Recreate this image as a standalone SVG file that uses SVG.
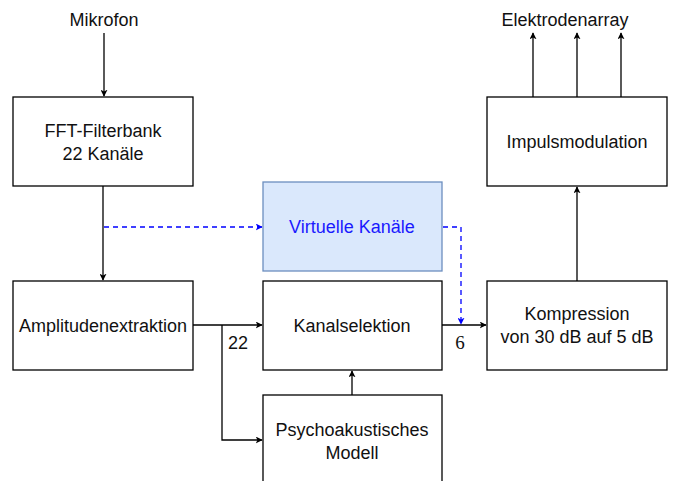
<svg xmlns="http://www.w3.org/2000/svg" width="673" height="481" viewBox="0 0 673 481">
<defs>
<style>
.box{fill:#ffffff;stroke:#000000;stroke-width:1.3}
.vbox{fill:#dae8fc;stroke:#6c8ebf;stroke-width:1.3}
.t{font-family:"Liberation Sans",Arial,sans-serif;font-size:18px;fill:#111111;text-anchor:middle}
.tv{font-family:"Liberation Sans",Arial,sans-serif;font-size:18px;fill:#1a1aff;text-anchor:middle}
.num{font-family:"Liberation Serif","Times New Roman",serif;font-size:19px;fill:#111111;text-anchor:middle}
.c{fill:none;stroke:#000000;stroke-width:1.3}
.d{fill:none;stroke:#0000ff;stroke-width:1.3;stroke-dasharray:5,4}
</style>
<marker id="ah" viewBox="0 0 10 10" refX="9" refY="5" markerWidth="7" markerHeight="7" markerUnits="userSpaceOnUse" orient="auto">
<path d="M0,0 L10,5 L0,10 L2.5,5 Z" fill="#000000"/>
</marker>
<marker id="ahb" viewBox="0 0 10 10" refX="9" refY="5" markerWidth="7" markerHeight="7" markerUnits="userSpaceOnUse" orient="auto">
<path d="M0,0 L10,5 L0,10 L2.5,5 Z" fill="#0000ff"/>
</marker>
</defs>
<rect width="673" height="481" fill="#ffffff"/>
<text class="t" x="104" y="26">Mikrofon</text>
<text class="t" x="565" y="26">Elektrodenarray</text>
<g id="connectors">
<path class="c" d="M104,33 L104,96" marker-end="url(#ah)"/>
<path class="c" d="M103,186 L103,280" marker-end="url(#ah)"/>
<path class="d" d="M104,227 L262,227" marker-end="url(#ahb)"/>
<path class="d" d="M443,227 L461,227 L461,324" marker-end="url(#ahb)"/>
<path class="c" d="M193,325 L262,325" marker-end="url(#ah)"/>
<path class="c" d="M222,325 L222,440 L262,440" marker-end="url(#ah)"/>
<path class="c" d="M352,395 L352,371" marker-end="url(#ah)"/>
<path class="c" d="M442,325 L486,325" marker-end="url(#ah)"/>
<path class="c" d="M577,281 L577,187" marker-end="url(#ah)"/>
<path class="c" d="M533,97 L533,33" marker-end="url(#ah)"/>
<path class="c" d="M577,97 L577,33" marker-end="url(#ah)"/>
<path class="c" d="M621,97 L621,33" marker-end="url(#ah)"/>
<text class="t" x="238" y="349">22</text>
<text class="num" x="460" y="349">6</text>
</g>
<g id="fft">
<rect class="box" x="13" y="97" width="180" height="89"/>
<text class="t" x="103" y="137">FFT-Filterbank</text>
<text class="t" x="103" y="160">22 Kanäle</text>
</g>
<g id="virtuell">
<rect class="vbox" x="263" y="182" width="179" height="89"/>
<text class="tv" x="352" y="233">Virtuelle Kanäle</text>
</g>
<g id="amplitude">
<rect class="box" x="13" y="281" width="180" height="89"/>
<text class="t" x="103" y="332">Amplitudenextraktion</text>
</g>
<g id="kanalselektion">
<rect class="box" x="263" y="281" width="179" height="89"/>
<text class="t" x="352" y="332">Kanalselektion</text>
</g>
<g id="psycho">
<rect class="box" x="263" y="395" width="179" height="100"/>
<text class="t" x="352" y="436">Psychoakustisches</text>
<text class="t" x="352" y="459">Modell</text>
</g>
<g id="kompression">
<rect class="box" x="487" y="281" width="180" height="89"/>
<text class="t" x="577" y="320">Kompression</text>
<text class="t" x="577" y="343">von 30 dB auf 5 dB</text>
</g>
<g id="impuls">
<rect class="box" x="487" y="97" width="180" height="89"/>
<text class="t" x="577" y="148">Impulsmodulation</text>
</g>
</svg>
